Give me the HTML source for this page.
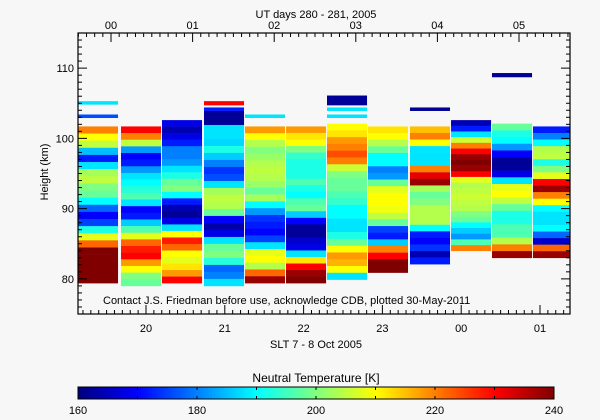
<!DOCTYPE html>
<html><head><meta charset="utf-8"><style>
html,body{margin:0;padding:0;background:#f7f7f7;}
svg{display:block;font-family:"Liberation Sans",sans-serif;}
</style></head><body>
<svg id="chart" width="600" height="420" viewBox="0 0 600 420">
<rect x="0" y="0" width="600" height="420" fill="#f7f7f7"/>
<g id="cols"></g>
<g id="axes"></g>
<text x="316" y="18" font-size="11" text-anchor="middle" fill="#000">UT days 280 - 281, 2005</text>
<text x="316" y="348" font-size="11" text-anchor="middle" fill="#000">SLT 7 - 8 Oct 2005</text>
<text x="48" y="172" font-size="11" text-anchor="middle" fill="#000" transform="rotate(-90 48 172)">Height (km)</text>
<text x="103" y="304" font-size="11" fill="#000">Contact J.S. Friedman before use, acknowledge CDB, plotted 30-May-2011</text>
<text x="316" y="382" font-size="12" text-anchor="middle" fill="#000">Neutral Temperature [K]</text>
<g id="cbar"></g>
</svg>
<script>
// ---- data ----
const colStarts = [19.137, 19.683, 20.203, 20.736, 21.256, 21.777, 22.297, 22.817, 23.350, 23.871, 24.391, 24.911];
const colTops = [101.7, 101.7, 102.6, 103.9, 101.7, 101.7, 102.1, 101.7, 101.7, 102.6, 102.1, 101.7];
const colBottoms = [79.4, 79.0, 79.4, 79.0, 79.4, 79.4, 79.9, 80.9, 82.1, 84.0, 83.0, 83.0];
const colTemps = [
 [220,210,205,185,172,188,203,205,200,198,190,178,170,175,192,208,222,240,240,240,240,240],
 [230,220,205,182,170,172,182,188,190,193,196,188,170,172,186,196,208,222,228,230,218,210,200,198],
 [168,164,168,172,180,180,182,188,192,198,200,190,172,164,162,168,188,210,228,222,210,208,212,218,230],
 [162,162,188,188,187,192,186,180,174,176,188,203,205,204,198,170,163,168,188,198,200,193,178,180,188],
 [218,210,204,200,202,204,205,204,202,198,203,190,182,174,172,170,175,188,208,210,204,222,238],
 [218,212,210,200,194,192,192,192,196,192,190,196,198,186,170,162,162,166,168,188,212,230,238,240],
 [210,212,218,220,224,220,206,200,198,198,196,194,190,190,188,188,192,198,210,218,216,210,188],
 [212,210,204,198,190,190,180,182,198,208,210,210,209,205,198,175,172,186,220,230,240,240],
 [215,220,210,188,188,188,220,232,238,203,198,200,204,204,204,190,172,170,174,164,172],
 [164,172,188,206,220,230,238,240,238,230,208,204,205,206,205,204,200,198,190,186,182,196,220],
 [198,192,190,182,170,162,162,168,188,208,210,205,198,192,192,196,196,204,220,238],
 [172,180,190,204,205,192,200,208,230,238,220,210,190,188,188,190,178,166,222,238]
];
const extraCol = [0, 0, 3, 3, 4, 6, 6, 6, 8, 10];
const extraLo = [104.8, 102.9, 104.7, 103.9, 102.9, 104.7, 103.9, 102.9, 103.9, 108.7];
const extraHi = [105.3, 103.4, 105.3, 104.4, 103.4, 106.1, 104.4, 103.4, 104.4, 109.3];
const extraTemp = [188, 176, 230, 172, 188, 162, 188, 188, 162, 162];
const yTicks = [80, 90, 100, 110];
const sltTicks = [20, 21, 22, 23, 24, 25];
const sltLabels = ["20", "21", "22", "23", "00", "01"];
const utTicks = [0, 1, 2, 3, 4, 5];
const utLabels = ["00", "01", "02", "03", "04", "05"];
const cbTicks = [160, 180, 200, 220, 240];

// ---- scales ----
const L = 78, R = 570, T = 33, B = 314;
const yMin = 75, yMax = 115;
const y = v => B - (v - yMin) / (yMax - yMin) * (B - T);
const x = h => 146 + (h - 20) * 78.8;
const xu = h => 111 + h * 81.6;
const colW = 0.508;
const tMin = 160, tMax = 240;
const NS = "http://www.w3.org/2000/svg";
function cl(v){return Math.max(0, Math.min(1, v));}
function jet(t){
  const f = cl((t - tMin) / (tMax - tMin));
  const r = cl(1.5 - Math.abs(4*f - 3)), g = cl(1.5 - Math.abs(4*f - 2)), b = cl(1.5 - Math.abs(4*f - 1));
  return `rgb(${Math.round(r*255)},${Math.round(g*255)},${Math.round(b*255)})`;
}
function mk(tag, attrs, parent){
  const e = document.createElementNS(NS, tag);
  for (const k in attrs) e.setAttribute(k, attrs[k]);
  parent.appendChild(e);
  return e;
}
const cols = document.getElementById('cols');
colStarts.forEach((s, i) => {
  const g = mk('g', {}, cols);
  
  
  const x0 = x(s), x1 = Math.min(R, x(s + colW));
  const vals = colTemps[i];
  const h = (colTops[i] - colBottoms[i]) / vals.length;
  vals.forEach((t, j) => {
    const top = colTops[i] - j * h;
    const r = mk('rect', {x: x0, y: y(top), width: x1 - x0, height: y(top - h) - y(top) + 0.3, fill: jet(t)}, g);
    
    
  });
});
extraCol.forEach((c, k) => {
  const x0 = x(colStarts[c]), x1 = Math.min(R, x(colStarts[c] + colW));
  const r = mk('rect', {x: x0, y: y(extraHi[k]), width: x1 - x0, height: y(extraLo[k]) - y(extraHi[k]), fill: jet(extraTemp[k])}, cols);
  
  
});

// ---- axes ----
const ax = document.getElementById('axes');
mk('rect', {x: L, y: T, width: R - L, height: B - T, fill: 'none', stroke: '#000', 'stroke-width': 1.2}, ax);
for (let v = yMin; v <= yMax; v++) {
  const major = v % 10 === 0;
  const len = major ? 9 : 4;
  mk('line', {x1: L, x2: L + len, y1: y(v), y2: y(v), stroke: '#000'}, ax);
  mk('line', {x1: R, x2: R - len, y1: y(v), y2: y(v), stroke: '#000'}, ax);
}
yTicks.forEach(v => {
  const t = mk('text', {x: 74, y: y(v) + 4, 'font-size': 11, 'text-anchor': 'end'}, ax);
  t.textContent = v;
  
  
});
for (let k = -9; k <= 60; k++) {
  const h = 20 + k / 10; const px = x(h);
  if (px < L || px > R) continue;
  const len = k % 10 === 0 ? 9 : 4;
  mk('line', {x1: px, x2: px, y1: B, y2: B - len, stroke: '#000'}, ax);
}
for (let k = -5; k <= 60; k++) {
  const px = xu(k / 10);
  if (px < L || px > R) continue;
  const len = k % 10 === 0 ? 9 : 4;
  mk('line', {x1: px, x2: px, y1: T, y2: T + len, stroke: '#000'}, ax);
}
sltTicks.forEach((h, i) => {
  const t = mk('text', {x: x(h), y: 332, 'font-size': 11, 'text-anchor': 'middle'}, ax);
  t.textContent = sltLabels[i];
  
  
});
utTicks.forEach((h, i) => {
  const t = mk('text', {x: xu(h), y: 29, 'font-size': 11, 'text-anchor': 'middle'}, ax);
  t.textContent = utLabels[i];
  
  
});

// ---- colorbar ----
const cb = document.getElementById('cbar');
const cbL = 78, cbR = 554, cbT = 387, cbB = 399;
const cx = v => cbL + (v - tMin) / (tMax - tMin) * (cbR - cbL);
for (let v = tMin; v < tMax; v += 0.5) {
  mk('rect', {x: cx(v), y: cbT, width: cx(v + 0.5) - cx(v) + 0.4, height: cbB - cbT, fill: jet(v + 0.25)}, cb);
}
mk('rect', {x: cbL, y: cbT, width: cbR - cbL, height: cbB - cbT, fill: 'none', stroke: '#000'}, cb);
for (let v = tMin; v <= tMax; v += 10) {
  mk('line', {x1: cx(v), x2: cx(v), y1: cbT, y2: cbT + 3, stroke: '#000'}, cb);
  mk('line', {x1: cx(v), x2: cx(v), y1: cbB, y2: cbB - 3, stroke: '#000'}, cb);
}
cbTicks.forEach(v => {
  const t = mk('text', {x: cx(v), y: 414, 'font-size': 11, 'text-anchor': 'middle'}, cb);
  t.textContent = v;
  
  
});
</script>
</body></html>
